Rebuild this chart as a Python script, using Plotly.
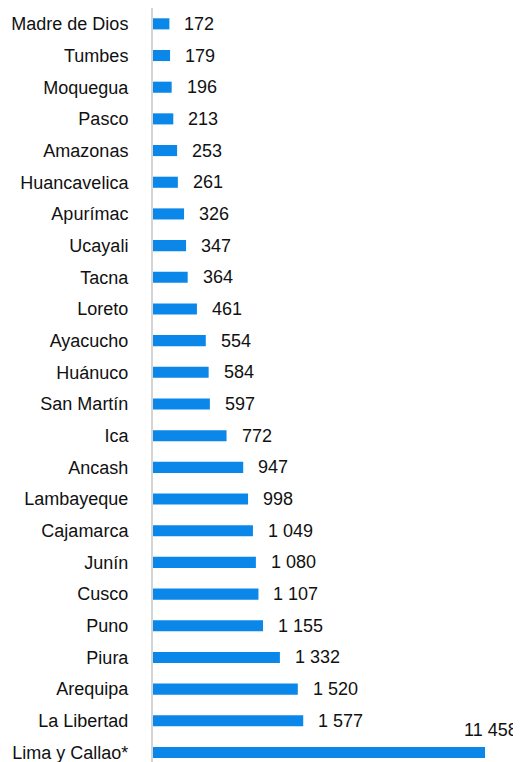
import plotly.graph_objects as go

regions = ["Madre de Dios", "Tumbes", "Moquegua", "Pasco", "Amazonas", "Huancavelica",
           "Apurímac", "Ucayali", "Tacna", "Loreto", "Ayacucho", "Huánuco", "San Martín",
           "Ica", "Ancash", "Lambayeque", "Cajamarca", "Junín", "Cusco", "Puno", "Piura",
           "Arequipa", "La Libertad", "Lima y Callao*"]
values = [172, 179, 196, 213, 253, 261, 326, 347, 364, 461, 554, 584, 597, 772, 947,
          998, 1049, 1080, 1107, 1155, 1332, 1520, 1577, 11458]

X_MAX = 3485  # axis is cut; the largest bar runs past it
FONT = "Liberation Sans, Arial, sans-serif"
FS = 18
BLUE = "#0A87E8"

def fmt(v):
    return f"{v:,}".replace(",", " ")

cats = regions[::-1]
vals = values[::-1]

fig = go.Figure(go.Bar(
    x=vals, y=cats, orientation="h", width=0.35,
    marker=dict(color=BLUE, line=dict(width=0)),
    hoverinfo="skip",
))

annotations = []
for c, v in zip(cats, vals):
    if v <= X_MAX:
        annotations.append(dict(x=v, y=c, xref="x", yref="y", text=fmt(v),
                                showarrow=False, xanchor="left", xshift=13,
                                font=dict(family=FONT, size=FS, color="#111")))
    else:
        annotations.append(dict(x=X_MAX, y=c, xref="x", yref="y", text=fmt(v),
                                showarrow=False, xanchor="left", xshift=-23, yshift=23,
                                font=dict(family=FONT, size=FS, color="#111")))

fig.update_layout(
    width=513, height=754,
    margin=dict(l=145, r=36, t=0, b=0, autoexpand=False),
    paper_bgcolor="white", plot_bgcolor="white",
    showlegend=False,
    annotations=annotations,
    font=dict(family=FONT, size=FS, color="#111"),
    xaxis=dict(range=[0, X_MAX], visible=False, fixedrange=True),
    yaxis=dict(type="category", categoryorder="array", categoryarray=cats,
               range=[-0.3, len(cats) - 0.5], automargin=False,
               showline=True, linecolor="#d4d4d4", linewidth=2,
               ticks="", showgrid=False, ticklabelstandoff=19,
               tickfont=dict(family=FONT, size=FS, color="#111")),
)

fig.write_html("out.html")
